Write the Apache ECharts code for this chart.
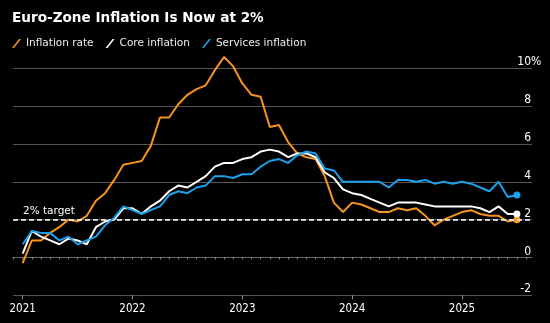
<!DOCTYPE html>
<html><head><meta charset="utf-8">
<script src="https://cdn.jsdelivr.net/npm/echarts@6/dist/echarts.min.js"></script>
<style>html,body{margin:0;padding:0;background:#000}#c{width:550px;height:323px}</style>
</head><body><div id="c"></div>
<script>
// Monthly observations Dec 2020 .. Jun 2025 (plotted at month end)
const months = (function(){const m=['2020-12'];for(let y=2021;y<=2025;y++){for(let k=1;k<=12;k++){if(y===2025&&k>6)break;m.push(y+'-'+String(k).padStart(2,'0'));}}return m;})();
const headline = [-0.3,
  0.9,0.9,1.3,1.6,2.0,1.9,2.2,3.0,3.4,4.1,4.9,5.0,
  5.1,5.9,7.4,7.4,8.1,8.6,8.9,9.1,9.9,10.6,10.1,9.2,
  8.6,8.5,6.9,7.0,6.1,5.5,5.3,5.2,4.3,2.9,2.4,2.9,
  2.8,2.6,2.4,2.4,2.6,2.5,2.6,2.2,1.7,2.0,2.2,2.4,
  2.5,2.3,2.2,2.2,1.9,2.0];
const core = [0.2,
  1.4,1.1,0.9,0.7,1.0,0.9,0.7,1.6,1.9,2.0,2.6,2.6,
  2.3,2.7,3.0,3.5,3.8,3.7,4.0,4.3,4.8,5.0,5.0,5.2,
  5.3,5.6,5.7,5.6,5.3,5.5,5.5,5.3,4.5,4.2,3.6,3.4,
  3.3,3.1,2.9,2.7,2.9,2.9,2.9,2.8,2.7,2.7,2.7,2.7,
  2.7,2.6,2.4,2.7,2.3,2.3];
const services = [0.7,
  1.4,1.3,1.3,0.9,1.1,0.7,0.9,1.1,1.7,2.1,2.7,2.5,
  2.3,2.5,2.7,3.3,3.5,3.4,3.7,3.8,4.3,4.3,4.2,4.4,
  4.4,4.8,5.1,5.2,5.0,5.4,5.6,5.5,4.7,4.6,4.0,4.0,
  4.0,4.0,4.0,3.7,4.1,4.1,4.0,4.1,3.9,4.0,3.9,4.0,
  3.9,3.7,3.5,4.0,3.2,3.3];
const seriesNames = ['Inflation rate','Core inflation','Services inflation'];
const yearLabels = ['2021','2022','2023','2024','2025'];
const yTicks = [-2,0,2,4,6,8,10];
const unitLabel = '%';
const targetValue = 2;
const targetLabel = '2% target';
const titleText = 'Euro-Zone Inflation Is Now at 2%';

// tick positions (month-end index): year tick = Dec of previous year
const yearPos = yearLabels.map(y => months.indexOf((+y-1)+'-12'));
const monthTicks = []; for (let i=-1;i<=months.length;i++) monthTicks.push(i);
const XMIN = -1.06, XMAX = 55.65;

const colors = ['#f7941d','#ffffff','#1ba1ec'];
const labelFont = "'Liberation Sans Narrow','DejaVu Sans Condensed','Liberation Sans',sans-serif";
const icon = 'path://M0,10L2.2,10L10,0L7.8,0Z';

function mk(idx, vals, width){
  return {
    name: seriesNames[idx], type:'line', symbol:'none', showSymbol:true, clip:false,
    data: vals.map((v,i)=> i===vals.length-1 ? {value:[i,v], symbol:'circle', symbolSize:7} : [i,v]),
    lineStyle:{color:colors[idx], width:width}, itemStyle:{color:colors[idx]},
    emphasis:{disabled:true}, z: 3+idx
  };
}
const s0 = mk(0, headline, 2);
s0.markLine = {silent:true, symbol:'none', data:[{yAxis:targetValue}],
  lineStyle:{color:'#ffffff', type:[5,3], width:1.5},
  label:{show:true, position:'insideStartTop', formatter:targetLabel, color:'#ffffff', fontSize:10.5, fontFamily:'DejaVu Sans', distance:[10,3]}};

const option = {
  backgroundColor:'#000', animation:false,
  title:{text:titleText, left:12, top:11, padding:0, textStyle:{color:'#fff', fontFamily:'DejaVu Sans', fontWeight:'bold', fontSize:13.6}},
  legend:{left:12, top:38, padding:0, itemWidth:9, itemHeight:10, itemGap:12,
    textStyle:{color:'#eee', fontFamily:'DejaVu Sans', fontSize:10.5},
    data: seriesNames.map(n=>({name:n, icon:icon}))},
  grid:{left:13, right:18, top:68.3, bottom:27.7},
  xAxis:[
    {type:'value', min:XMIN, max:XMAX, position:'bottom',
     axisLine:{show:true, lineStyle:{color:'#666', width:1}},
     axisTick:{show:true, length:2, customValues:monthTicks, lineStyle:{color:'#888'}},
     axisLabel:{show:false}, splitLine:{show:false}},
    {type:'value', min:XMIN, max:XMAX, position:'bottom',
     axisLine:{show:false},
     axisTick:{show:true, length:4, customValues:yearPos, lineStyle:{color:'#999'}},
     axisLabel:{show:true, customValues:yearPos, formatter:v=>yearLabels[yearPos.indexOf(Math.round(v))],
       color:'#fff', fontSize:11.5, fontFamily:labelFont, margin:8},
     splitLine:{show:false}}
  ],
  yAxis:{type:'value', position:'right', min:yTicks[0], max:yTicks[yTicks.length-1], interval:2,
    axisLine:{show:false}, axisTick:{show:false},
    axisLabel:{inside:true, align:'right', verticalAlign:'bottom', margin:1, color:'#fff', fontSize:12, fontFamily:labelFont},
    splitLine:{show:true, lineStyle:{color:['#555','#e8e8e8','#555','#555','#555','#555','#555'], width:1}}},
  series:[s0, mk(1, core, 2), mk(2, services, 2)]
};
const chart = echarts.init(document.getElementById('c'), null, {renderer:'canvas'});
chart.setOption(option);
// unit sign after the top y label
const topPx = chart.convertToPixel({yAxisIndex:0}, yTicks[yTicks.length-1]);
chart.setOption({graphic:[{type:'text', x:531, y:topPx, silent:true,
  style:{text:unitLabel, fill:'#fff', fontSize:12, fontFamily:labelFont, align:'left', verticalAlign:'bottom'}}]});
</script></body></html>
